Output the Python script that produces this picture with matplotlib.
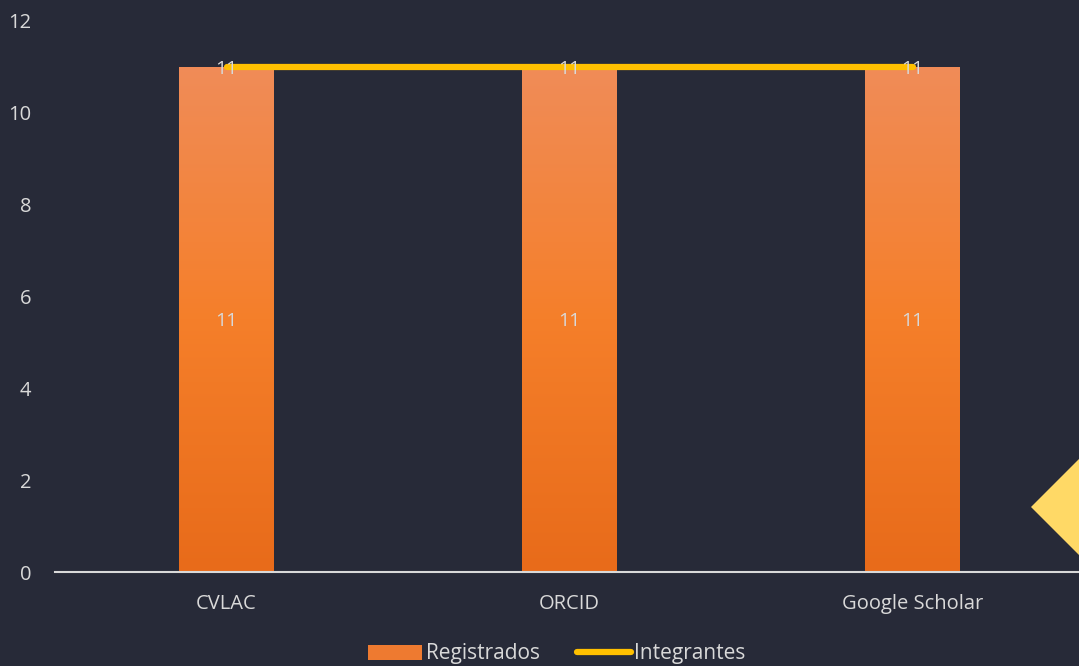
import matplotlib
matplotlib.use("Agg")
import matplotlib.pyplot as plt
import numpy as np
from matplotlib.colors import LinearSegmentedColormap
from matplotlib.patches import Polygon, Rectangle
from matplotlib.lines import Line2D

categories = ["CVLAC", "ORCID", "Google Scholar"]
registrados = [11, 11, 11]
integrantes = [11, 11, 11]
yticks = [0, 2, 4, 6, 8, 10, 12]

bg = "#272a38"
text_col = "#d9d9d9"
bar_cmap = LinearSegmentedColormap.from_list(
    "orange", ["#e86b1a", "#f57f2a", "#f08c58"])

plt.rcParams['font.family'] = ['Open Sans', 'DejaVu Sans']

fig = plt.figure(figsize=(10.79, 6.66), dpi=100, facecolor=bg)
ax = fig.add_axes([55 / 1079, (666 - 572) / 666, 1029 / 1079, 551 / 666])
ax.set_facecolor(bg)

x = np.arange(len(categories))
width = 0.275
bars = ax.bar(x, registrados, width=width, color="none", zorder=2)
grad = np.linspace(0, 1, 256).reshape(-1, 1)
for b in bars:
    im = ax.imshow(grad, cmap=bar_cmap, origin="lower", aspect="auto",
                   extent=[b.get_x(), b.get_x() + b.get_width(), 0, b.get_height()],
                   zorder=2)
    im.set_clip_path(b)

ax.plot(x, integrantes, color="#ffc000", lw=4.5, solid_capstyle="round", zorder=3)

for xi, v in zip(x, registrados):
    ax.text(xi, v / 2, str(v), ha="center", va="center_baseline", color=text_col,
            fontsize=14, zorder=4)
for xi, v in zip(x, integrantes):
    ax.text(xi, v, str(v), ha="center", va="center_baseline", color=text_col,
            fontsize=14, zorder=4)

ax.set_xlim(-0.5, 2.5)
ax.set_ylim(0, 12)
ax.set_yticks(yticks)
ax.set_xticks(x)
ax.set_xticklabels(categories)
ax.tick_params(axis="both", length=0, colors=text_col, labelsize=14.5)
ax.tick_params(axis="y", pad=17)
ax.tick_params(axis="x", pad=16)
for s in ["top", "right", "left"]:
    ax.spines[s].set_visible(False)
ax.spines["bottom"].set_color("#d9d9d9")
ax.spines["bottom"].set_linewidth(1.5)

# decorative diamond on the right edge
diamond = Polygon([(1031, 666 - 507), (1085, 666 - 453), (1139, 666 - 507), (1085, 666 - 561)],
                  closed=True, facecolor="#ffd966", edgecolor="none",
                  transform=None, zorder=5)
fig.patches.append(diamond)

handles = [Rectangle((0, 0), 1, 1, facecolor="#ee7a30", edgecolor="none"),
           Line2D([0], [0], color="#ffc000", lw=4.5, solid_capstyle="round")]
leg = fig.legend(handles, ["Registrados", "Integrantes"], loc="center",
                 bbox_to_anchor=(557 / 1079, (666 - 654) / 666), ncol=2,
                 frameon=False, fontsize=15, labelcolor=text_col,
                 handlelength=2.6, handletextpad=0.15, columnspacing=1.8)

fig.savefig("out.png", dpi=100, facecolor=bg)
